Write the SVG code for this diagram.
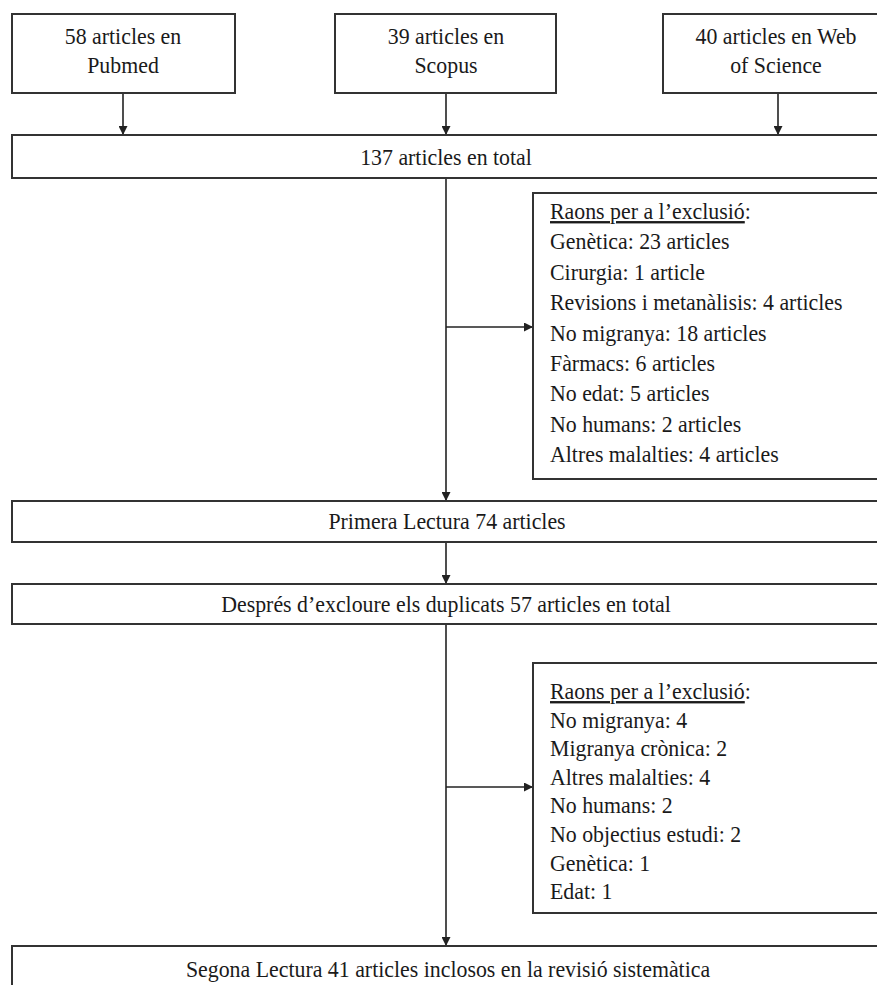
<svg xmlns="http://www.w3.org/2000/svg" width="877" height="985" viewBox="0 0 877 985">
<style>
  .box { fill: #ffffff; stroke: #333333; stroke-width: 2; }
  .t { font-family: "Liberation Serif", "Times New Roman", serif; font-size: 23.5px; fill: #1a1a1a; }
  .c { text-anchor: middle; }
  .line { stroke: #222222; stroke-width: 1.6; fill: none; marker-end: url(#arr); }
  .u { text-decoration: underline; }
</style>
<defs>
  <marker id="arr" viewBox="0 0 10 10" refX="10" refY="5" markerUnits="userSpaceOnUse" markerWidth="9" markerHeight="9" orient="auto">
    <path d="M0,0 L10,5 L0,10 z" fill="#222222"/>
  </marker>
</defs>
<rect width="877" height="985" fill="#ffffff"/>

<g id="connectors">
  <line class="line" x1="123" y1="93" x2="123" y2="135"/>
  <line class="line" x1="446" y1="93" x2="446" y2="135"/>
  <line class="line" x1="778" y1="93" x2="778" y2="135"/>
  <line class="line" x1="446" y1="178" x2="446" y2="501"/>
  <line class="line" x1="446" y1="327" x2="533" y2="327"/>
  <line class="line" x1="446" y1="542" x2="446" y2="584"/>
  <line class="line" x1="446" y1="624" x2="446" y2="946"/>
  <line class="line" x1="446" y1="787" x2="533" y2="787"/>
</g>

<g id="pubmed">
  <rect class="box" x="12" y="14" width="223" height="79"/>
  <g transform="translate(123,0) scale(0.93,1)">
    <text class="t c" x="0" y="44">58 articles en</text>
    <text class="t c" x="0" y="73">Pubmed</text>
  </g>
</g>
<g id="scopus">
  <rect class="box" x="335" y="14" width="221" height="79"/>
  <g transform="translate(446,0) scale(0.93,1)">
    <text class="t c" x="0" y="44">39 articles en</text>
    <text class="t c" x="0" y="73">Scopus</text>
  </g>
</g>
<g id="wos">
  <rect class="box" x="663" y="14" width="230" height="79"/>
  <g transform="translate(776,0) scale(0.93,1)">
    <text class="t c" x="0" y="44">40 articles en Web</text>
    <text class="t c" x="0" y="73">of Science</text>
  </g>
</g>

<g id="total">
  <rect class="box" x="12" y="135" width="872" height="43"/>
  <g transform="translate(446,0) scale(0.93,1)">
    <text class="t c" x="0" y="165">137 articles en total</text>
  </g>
</g>

<g id="exclusio1">
  <rect class="box" x="533" y="193" width="352" height="286"/>
  <g transform="translate(550,0) scale(0.93,1)">
    <text class="t" x="0" y="219"><tspan class="u">Raons per a l’exclusió</tspan>:</text>
    <text class="t" x="0" y="249.4">Genètica: 23 articles</text>
    <text class="t" x="0" y="279.8">Cirurgia: 1 article</text>
    <text class="t" x="0" y="310.2">Revisions i metanàlisis: 4 articles</text>
    <text class="t" x="0" y="340.6">No migranya: 18 articles</text>
    <text class="t" x="0" y="371">Fàrmacs: 6 articles</text>
    <text class="t" x="0" y="401.4">No edat: 5 articles</text>
    <text class="t" x="0" y="431.8">No humans: 2 articles</text>
    <text class="t" x="0" y="462.2">Altres malalties: 4 articles</text>
  </g>
</g>

<g id="primera">
  <rect class="box" x="12" y="501" width="872" height="41"/>
  <g transform="translate(447,0) scale(0.93,1)">
    <text class="t c" x="0" y="529">Primera Lectura 74 articles</text>
  </g>
</g>

<g id="despres">
  <rect class="box" x="12" y="584" width="872" height="40"/>
  <g transform="translate(446,0) scale(0.93,1)">
    <text class="t c" x="0" y="612">Després d’excloure els duplicats 57 articles en total</text>
  </g>
</g>

<g id="exclusio2">
  <rect class="box" x="533" y="663" width="352" height="250"/>
  <g transform="translate(550,0) scale(0.93,1)">
    <text class="t" x="0" y="699"><tspan class="u">Raons per a l’exclusió</tspan>:</text>
    <text class="t" x="0" y="727.6">No migranya: 4</text>
    <text class="t" x="0" y="756.2">Migranya crònica: 2</text>
    <text class="t" x="0" y="784.8">Altres malalties: 4</text>
    <text class="t" x="0" y="813.4">No humans: 2</text>
    <text class="t" x="0" y="842">No objectius estudi: 2</text>
    <text class="t" x="0" y="870.6">Genètica: 1</text>
    <text class="t" x="0" y="899.2">Edat: 1</text>
  </g>
</g>

<g id="segona">
  <rect class="box" x="12" y="946" width="872" height="60"/>
  <g transform="translate(448,0) scale(0.93,1)">
    <text class="t c" x="0" y="977">Segona Lectura 41 articles inclosos en la revisió sistemàtica</text>
  </g>
</g>
</svg>
